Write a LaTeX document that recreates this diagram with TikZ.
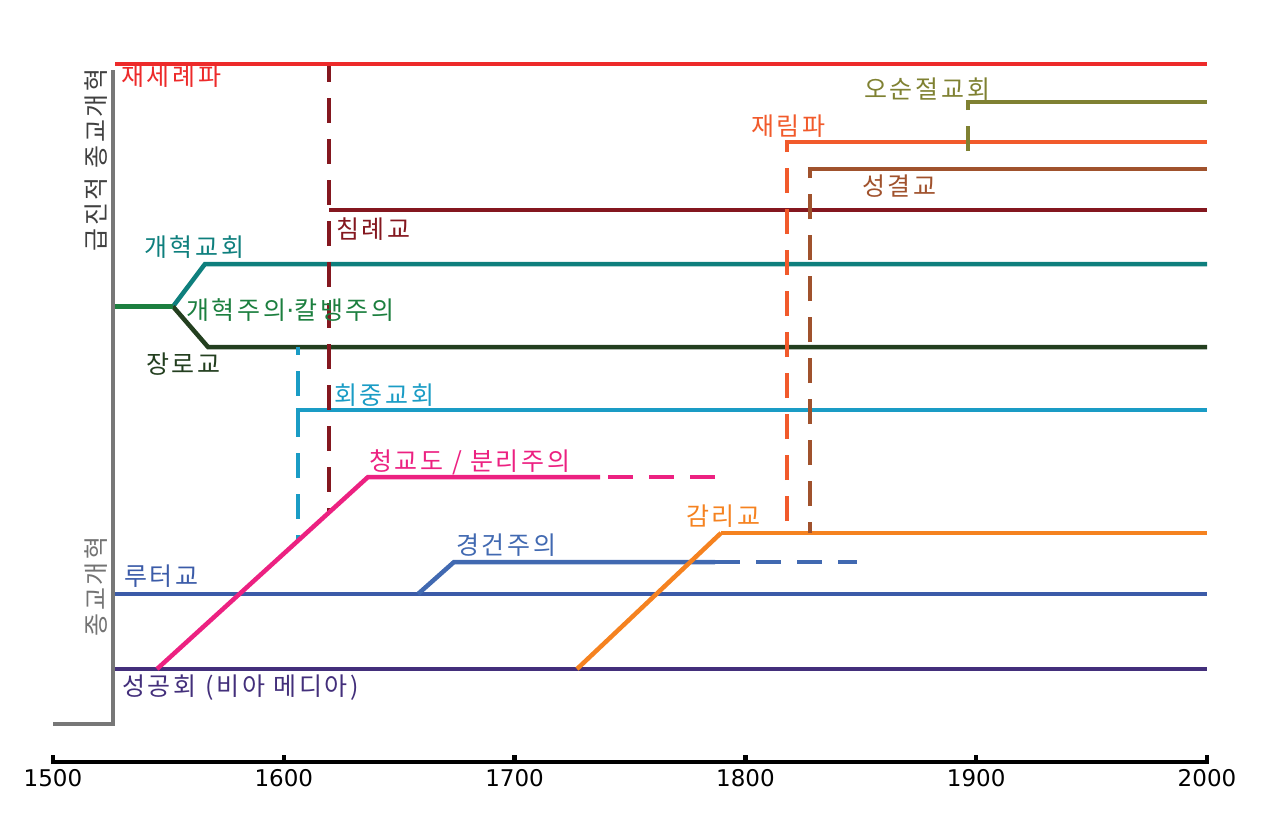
\documentclass[tikz,border=0pt]{standalone}
\usepackage{fontspec}
\setmainfont{DejaVu Sans}
\newfontfamily\kr[LetterSpace=11]{Noto Sans CJK KR}
\usetikzlibrary{calc}

\definecolor{anabap}{HTML}{ED2A2A}
\definecolor{baptist}{HTML}{84171F}
\definecolor{reformed}{HTML}{1C7F3F}
\definecolor{refchurch}{HTML}{0E7F7D}
\definecolor{presby}{HTML}{233F1F}
\definecolor{congreg}{HTML}{1A9CC5}
\definecolor{puritan}{HTML}{EC2181}
\definecolor{luther}{HTML}{3B5BA8}
\definecolor{pietism}{HTML}{4169B1}
\definecolor{anglican}{HTML}{432F7B}
\definecolor{method}{HTML}{F58220}
\definecolor{advent}{HTML}{F15A2B}
\definecolor{holiness}{HTML}{A0522D}
\definecolor{pente}{HTML}{7F8132}
\definecolor{bracket}{HTML}{777777}

\tikzset{
  stream/.style={line width=4.5pt},
  split/.style={stream, dash pattern=on 25pt off 16pt},
  lbl/.style={anchor=base west, inner sep=0pt, font=\kr\fontsize{25}{30}\selectfont},
  side/.style={rotate=90, inner sep=0pt, font=\kr\fontsize{25}{30}\selectfont},
  yrlbl/.style={anchor=base, inner sep=0pt, font=\fontsize{23}{28}\selectfont},
}

\begin{document}
\begin{tikzpicture}[x=1pt, y=-1pt]
\useasboundingbox (0,0) rectangle (1280,819);

% end points of the streams
\coordinate (ana-s) at (115,64);    \coordinate (ana-e) at (1207,64);
\coordinate (bap-t) at (329,64);    \coordinate (bap-b) at (329,512);
\coordinate (bap-s) at (329,210);   \coordinate (bap-e) at (1207,210);
\coordinate (ref-s) at (115,306.5); \coordinate (ref-f) at (173,306.5);
\coordinate (rch-k) at (205,264);   \coordinate (rch-e) at (1207,264);
\coordinate (pre-k) at (208,347);   \coordinate (pre-e) at (1207,347);
\coordinate (con-t) at (298,347);   \coordinate (con-b) at (298,540);
\coordinate (con-s) at (298,410);   \coordinate (con-e) at (1207,410);
\coordinate (pur-b) at (157,669);   \coordinate (pur-k) at (368,477);
\coordinate (pur-m) at (600,477);   \coordinate (pur-e) at (716,477);
\coordinate (lut-s) at (115,594);   \coordinate (lut-e) at (1207,594);
\coordinate (pie-b) at (418,594);   \coordinate (pie-k) at (454,562);
\coordinate (pie-m) at (715,562);   \coordinate (pie-e) at (857,562);
\coordinate (ang-s) at (115,669);   \coordinate (ang-e) at (1207,669);
\coordinate (met-b) at (577,669);   \coordinate (met-k) at (721,533);
\coordinate (met-e) at (1207,533);
\coordinate (adv-b) at (787,521);   \coordinate (adv-t) at (787,142);
\coordinate (adv-e) at (1207,142);
\coordinate (hol-b) at (810,533);   \coordinate (hol-t) at (810,169);
\coordinate (hol-e) at (1207,169);
\coordinate (pen-b) at (968,151);   \coordinate (pen-t) at (968,102);
\coordinate (pen-e) at (1207,102);
\coordinate (brk-t) at (113,70);    \coordinate (brk-b) at (53,724);

% bracket
\draw[stream, bracket] (brk-t) |- (brk-b);

% horizontal streams
\draw[stream, refchurch] (ref-f) -- (rch-k) -- (rch-e);
\draw[stream, presby] (ref-f) -- (pre-k) -- (pre-e);
\draw[stream, reformed] (ref-s) -- (ref-f);
\draw[stream, congreg, shorten <=-2.25pt] (con-s) -- (con-e);
\draw[stream, baptist] (bap-s) -- (bap-e);
\draw[stream, luther] (lut-s) -- (lut-e);
\draw[stream, anglican] (ang-s) -- (ang-e);
\draw[stream, pietism] (pie-b) -- (pie-k) -- (pie-m);
\draw[split, pietism] (pie-m) -- (pie-e);
\draw[stream, method] (met-k) -- (met-e);
\draw[stream, advent, shorten <=-2.25pt] (adv-t) -- (adv-e);
\draw[stream, holiness, shorten <=-2.25pt] (hol-t) -- (hol-e);
\draw[stream, pente, shorten <=-2.25pt] (pen-t) -- (pen-e);

% dashed offshoots
\draw[split, congreg, dash phase=17pt] (con-t) -- (con-b);
\draw[split, baptist, dash phase=7pt] (bap-t) -- (bap-b);
\draw[split, advent] (adv-b) -- (adv-t);
\draw[split, holiness, dash phase=14pt] (hol-b) -- (hol-t);
\draw[split, pente] (pen-b) -- (pen-t);

\draw[stream, anabap] (ana-s) -- (ana-e);
\draw[stream, puritan] (pur-b) -- (pur-k) -- (pur-m);
\draw[split, puritan, dash phase=33pt] (pur-m) -- (pur-e);
\draw[stream, method] (met-b) -- (met-k);

% labels
\node[lbl, anabap] (l-ana) at (121,85.5) {재세례파};
\node[lbl, baptist] (l-bap) at (336,238.5) {침례교};
\node[lbl, refchurch] (l-rch) at (144,256.5) {개혁교회};
\node[lbl, reformed] (l-ref) at (186,319) {개혁주의{\normalfont·}칼뱅주의};
\node[lbl, presby] (l-pre) at (146,373.5) {장로교};
\node[lbl, congreg] (l-con) at (334,404.5) {회중교회};
\node[lbl, puritan] (l-pur) at (369,470.5) {청교도 / 분리주의};
\node[lbl, pietism] (l-pie) at (456,554.5) {경건주의};
\node[lbl, luther] (l-lut) at (124,585.5) {루터교};
\node[lbl, anglican] (l-ang) at (122,695.5) {성공회 (비아 메디아)};
\node[lbl, method] (l-met) at (686,525.5) {감리교};
\node[lbl, advent] (l-adv) at (751,135.5) {재림파};
\node[lbl, pente] (l-pen) at (864,98) {오순절교회};
\node[lbl, holiness] (l-hol) at (862,195.5) {성결교};
\node[side, black!75] (l-rad) at (96.5,160) {급진적 종교개혁};
\node[side, black!55] (l-mag) at (96.5,586.5) {종교개혁};

% time axis
\coordinate (ax-l) at (53,762); \coordinate (ax-r) at (1207,762);
\draw[stream, black] (ax-l) -- (ax-r);
\foreach \yr [count=\i from 0] in {1500,1600,...,2000} {
  \draw[stream, black] ({53+\i*230.8},764) -- ({53+\i*230.8},755);
  \node[yrlbl] (yr\yr) at ({53+\i*230.8},786.5) {\yr};
}
\end{tikzpicture}
\end{document}
